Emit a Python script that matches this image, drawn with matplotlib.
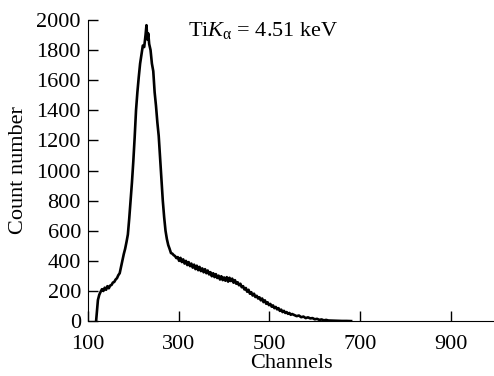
import matplotlib
matplotlib.use('Agg')
import matplotlib.pyplot as plt

plt.rcParams['font.family'] = ['Liberation Serif', 'DejaVu Serif']
plt.rcParams['mathtext.fontset'] = 'custom'
plt.rcParams['mathtext.rm'] = 'Liberation Serif'
plt.rcParams['mathtext.it'] = 'Liberation Serif:italic'

# spectrum (channel, count)
channels = [118, 120, 122, 125, 128, 131, 134, 137, 140, 143, 146, 149, 152, 155, 158,
            161, 164, 167, 170, 173, 176, 179, 182, 185, 188, 191, 194, 197, 200, 203,
            206, 209, 212, 215, 218, 221, 224, 227, 229, 231, 233, 235, 238, 241, 244,
            247, 250, 253, 256, 259, 262, 265, 268, 271, 274, 277, 280, 283, 286, 289,
            292, 295, 298, 301, 304, 307, 310, 313, 316, 319, 322, 325, 328, 331, 334,
            337, 340, 343, 346, 349, 352, 355, 358, 361, 364, 367, 370, 373, 376, 379,
            382, 385, 388, 391, 394, 397, 400, 403, 406, 409, 412, 415, 418, 421, 424,
            427, 430, 433, 436, 439, 442, 445, 448, 451, 454, 457, 460, 463, 466, 469,
            472, 475, 478, 481, 484, 487, 490, 493, 496, 499, 502, 505, 508, 511, 514,
            517, 520, 523, 526, 529, 532, 535, 538, 541, 544, 547, 550, 555, 560, 565,
            570, 575, 580, 585, 590, 595, 600, 605, 610, 615, 620, 625, 630, 640, 650,
            660, 670, 680]
counts = [0, 70, 140, 175, 195, 212, 200, 222, 208, 232, 218, 236, 240, 256, 260,
          276, 285, 305, 318, 360, 400, 445, 480, 525, 575, 680, 800, 920, 1060, 1220,
          1400, 1520, 1620, 1710, 1770, 1830, 1820, 1900, 1965, 1870, 1910, 1840, 1800, 1710, 1660,
          1520, 1430, 1320, 1230, 1090, 960, 800, 690, 600, 545, 505, 480, 452, 448, 438,
          432, 418, 425, 400, 420, 392, 410, 382, 400, 372, 392, 365, 382, 355, 375,
          345, 368, 338, 360, 332, 350, 324, 345, 318, 336, 310, 325, 298, 318, 292,
          312, 286, 302, 276, 298, 272, 290, 268, 292, 262, 288, 266, 282, 255, 272,
          248, 258, 238, 248, 225, 232, 210, 220, 195, 208, 182, 192, 170, 182, 160,
          168, 150, 158, 138, 150, 126, 138, 115, 125, 106, 114, 96, 104, 86, 94,
          78, 86, 68, 76, 60, 68, 54, 60, 48, 54, 42, 47, 40, 33, 37,
          26, 30, 20, 25, 18, 20, 12, 15, 8, 11, 5, 8, 4, 3, 2,
          1, 1, 0]

xticks = [100, 300, 500, 700, 900]
yticks = [0, 200, 400, 600, 800, 1000, 1200, 1400, 1600, 1800, 2000]

fig = plt.figure(figsize=(4.94, 3.76), dpi=100)
ax = fig.add_axes([0.178, 0.146, 0.822, 0.801])

ax.plot(channels, counts, color='black', lw=1.9)

ax.set_xlim(100, 995)
ax.set_ylim(0, 2000)
ax.set_xticks(xticks)
ax.set_yticks(yticks)
ax.tick_params(direction='in', length=7, width=1, labelsize=16)
ax.tick_params(axis='x', pad=10)
ax.tick_params(axis='y', pad=5)
ax.spines['top'].set_visible(False)
ax.spines['right'].set_visible(False)

ax.set_xlabel('Channels', fontsize=16, labelpad=0)
ax.set_ylabel('Count number', fontsize=16, labelpad=6)

ax.text(320, 1892, r'Ti$K_\mathrm{\alpha}$ = 4.51 keV', fontsize=16, va='baseline', ha='left')

fig.savefig('out.png', dpi=100)
